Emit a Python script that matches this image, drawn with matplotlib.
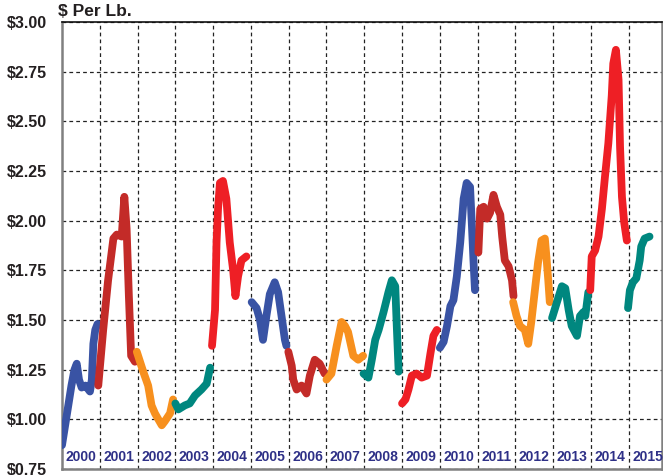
import matplotlib
matplotlib.use('Agg')
import matplotlib.pyplot as plt

# one segment per year: offsets are fractions of the year, prices in $/lb
years = list(range(2000, 2016))

offsets = [
    [0.00, 0.05, 0.15, 0.25, 0.33, 0.39, 0.45, 0.52, 0.62, 0.74, 0.79, 0.83, 0.88, 0.94],
    [-0.04, 0.09, 0.22, 0.36, 0.45, 0.58, 0.65, 0.71, 0.77, 0.83, 0.93],
    [-0.02, 0.15, 0.28, 0.37, 0.46, 0.64, 0.72, 0.86, 0.94],
    [0.00, 0.08, 0.25, 0.38, 0.52, 0.69, 0.83, 0.92],
    [-0.03, 0.05, 0.09, 0.13, 0.18, 0.26, 0.35, 0.44, 0.53, 0.59, 0.66, 0.75, 0.88],
    [0.02, 0.15, 0.24, 0.32, 0.41, 0.50, 0.63, 0.72, 0.81, 0.90, 0.94],
    [-0.01, 0.08, 0.12, 0.21, 0.34, 0.47, 0.56, 0.69, 0.82, 0.95],
    [0.00, 0.13, 0.27, 0.40, 0.49, 0.57, 0.71, 0.84, 0.97],
    [-0.02, 0.11, 0.20, 0.29, 0.38, 0.51, 0.64, 0.73, 0.82, 0.86, 0.91],
    [0.00, 0.09, 0.17, 0.26, 0.39, 0.52, 0.66, 0.75, 0.83, 0.92],
    [0.00, 0.10, 0.19, 0.28, 0.36, 0.45, 0.54, 0.63, 0.71, 0.80, 0.85, 0.89, 0.93],
    [0.02, 0.07, 0.16, 0.25, 0.33, 0.42, 0.51, 0.60, 0.65, 0.72, 0.82, 0.91, 0.95],
    [-0.06, 0.03, 0.12, 0.25, 0.34, 0.42, 0.51, 0.60, 0.69, 0.78, 0.82, 0.87, 0.91],
    [-0.03, 0.10, 0.23, 0.32, 0.41, 0.49, 0.63, 0.71, 0.80, 0.85, 0.93],
    [-0.02, 0.02, 0.11, 0.20, 0.29, 0.37, 0.46, 0.55, 0.59, 0.66, 0.73, 0.77, 0.82, 0.88, 0.95],
    [-0.02, 0.03, 0.11, 0.20, 0.29, 0.33, 0.42, 0.55],
]

prices = [
    [0.87, 0.93, 1.05, 1.17, 1.25, 1.28, 1.20, 1.16, 1.17, 1.14, 1.20, 1.38, 1.45, 1.48],
    [1.17, 1.45, 1.70, 1.91, 1.93, 1.92, 2.12, 1.96, 1.62, 1.32, 1.29],
    [1.34, 1.24, 1.17, 1.07, 1.03, 0.97, 0.99, 1.03, 1.10],
    [1.08, 1.05, 1.07, 1.08, 1.12, 1.15, 1.18, 1.26],
    [1.37, 1.55, 1.89, 2.06, 2.19, 2.20, 2.11, 1.89, 1.75, 1.62, 1.72, 1.80, 1.82],
    [1.59, 1.56, 1.50, 1.40, 1.52, 1.63, 1.69, 1.64, 1.52, 1.40, 1.37],
    [1.34, 1.27, 1.20, 1.15, 1.17, 1.13, 1.22, 1.30, 1.28, 1.23],
    [1.20, 1.23, 1.37, 1.49, 1.47, 1.44, 1.32, 1.30, 1.32],
    [1.23, 1.21, 1.30, 1.40, 1.45, 1.54, 1.64, 1.70, 1.67, 1.47, 1.24],
    [1.08, 1.10, 1.15, 1.22, 1.23, 1.21, 1.22, 1.33, 1.42, 1.45],
    [1.36, 1.39, 1.47, 1.57, 1.60, 1.72, 1.89, 2.11, 2.19, 2.17, 1.97, 1.80, 1.65],
    [1.84, 2.06, 2.07, 2.01, 2.04, 2.13, 2.07, 2.03, 1.92, 1.80, 1.77, 1.70, 1.62],
    [1.59, 1.52, 1.47, 1.45, 1.38, 1.49, 1.64, 1.79, 1.90, 1.91, 1.82, 1.70, 1.59],
    [1.51, 1.59, 1.67, 1.66, 1.55, 1.47, 1.42, 1.52, 1.54, 1.52, 1.64],
    [1.65, 1.82, 1.85, 1.92, 2.06, 2.22, 2.39, 2.63, 2.79, 2.86, 2.71, 2.37, 2.12, 1.99, 1.90],
    [1.56, 1.65, 1.69, 1.71, 1.80, 1.87, 1.91, 1.92],
]

palette = ['#3953a4', '#c32b28', '#f7901e', '#00877f', '#ee1f25']
colors = [palette[i % 5] for i in range(15)] + ['#00877f']

yticks = [0.75, 1.00, 1.25, 1.50, 1.75, 2.00, 2.25, 2.50, 2.75, 3.00]

fig = plt.figure(figsize=(6.63, 4.75), dpi=100)
ax = fig.add_axes([62/663, 6/475, 600/663, 447/475])

for yr, off, pr, c in zip(years, offsets, prices, colors):
    xs = [yr + o for o in off]
    ax.plot(xs, pr, color=c, lw=5.6, solid_capstyle='round', solid_joinstyle='round', zorder=3)

for yr in years:
    ax.text(yr + 0.5, 0.808, str(yr), ha='center', va='center', fontsize=10,
            fontweight='bold', color='#2e3087', family='Liberation Sans', zorder=4)

ax.set_xlim(2000, 2015.88)
ax.set_ylim(0.75, 3.00)
ax.set_xticks(years[1:])
ax.set_xticklabels([])
ax.set_yticks(yticks)
ax.set_yticklabels(['${:.2f}'.format(v) for v in yticks], fontsize=11.5,
                   fontweight='bold', family='Liberation Sans', color='#231f20')
ax.tick_params(length=0, pad=11)
ax.grid(True, color='#222222', lw=0.9, ls=(0, (3, 2.5)))
ax.set_axisbelow(True)

for side in ['left', 'bottom', 'right']:
    ax.spines[side].set_color('#808080')
    ax.spines[side].set_linewidth(1.8)
ax.spines['top'].set_color('#111111')
ax.spines['top'].set_linewidth(1.2)

fig.text(58/663, 1 - 12/475, '$ Per Lb.', ha='left', va='center', fontsize=12.5,
         fontweight='bold', family='Liberation Sans', color='#231f20')

fig.savefig('out.png', dpi=100)
